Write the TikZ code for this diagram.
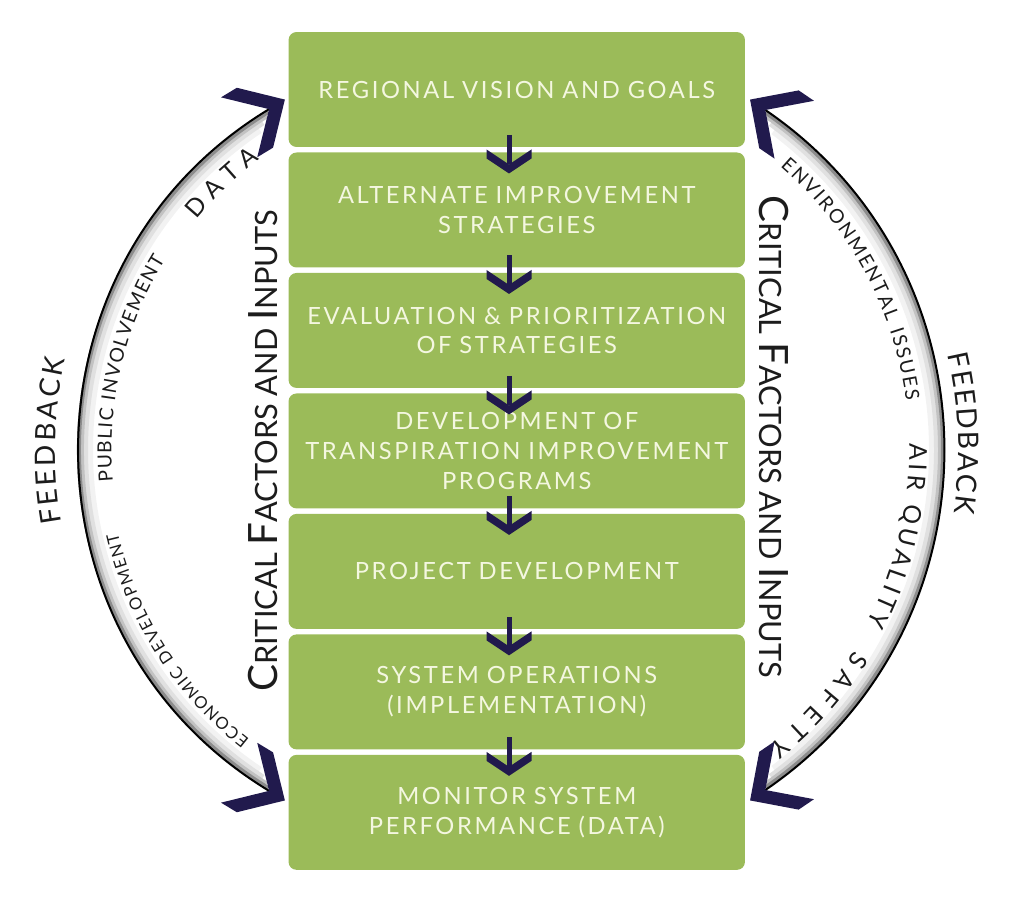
\documentclass[tikz,border=0pt]{standalone}
\usepackage{fontspec}
\setmainfont{Lato}
\newfontfamily\stagefont[LetterSpace=11]{Lato}
\usetikzlibrary{positioning, calc}
\usetikzlibrary{decorations, decorations.markings, decorations.text}

\definecolor{stagegreen}{HTML}{9BBB59}
\definecolor{stagetext}{HTML}{F4F7E0}
\definecolor{barbnavy}{HTML}{211A4D}
\definecolor{inkgray}{HTML}{1C1C1C}

\newcommand{\ini}[1]{{\fontsize{23}{24}\selectfont #1}}
\newcommand{\fsFeed}{\fontsize{16}{18}\selectfont}
\newcommand{\fsArc}{\fontsize{11}{13}\selectfont}
\newcommand{\fsEco}{\fontsize{9.5}{11}\selectfont}
\newcommand{\fsBig}{\fontsize{14}{16}\selectfont}

\tikzset{
    chev/.style args={#1 #2 #3}{
        decoration={
            markings,
            mark= at position 1 with
                {
                    \fill[barbnavy] (#3,0pt) -- (#3-#1,#2) -- (-#1,#2) -- (0pt,0pt) -- (-#1,-#2) -- (#3-#1,-#2) -- cycle;
                },
        },
        postaction={decorate}
    },
    chev/.default={0.3cm 0.45cm 0.18cm}
}
\tikzset{
    chevs/.style args={#1 #2 #3}{
        decoration={
            markings,
            mark= at position 0 with
                {
                    \fill[barbnavy, xscale=-1] (#3,0pt) -- (#3-#1,#2) -- (-#1,#2) -- (0pt,0pt) -- (-#1,-#2) -- (#3-#1,-#2) -- cycle;
                },
            mark= at position 0.9999 with
                {
                    \fill[barbnavy] (#3,0pt) -- (#3-#1,#2) -- (-#1,#2) -- (0pt,0pt) -- (-#1,-#2) -- (#3-#1,-#2) -- cycle;
                },
        },
        postaction={decorate}
    },
    chevs/.default={0.7cm 0.7cm 0.37cm}
}
\tikzset{
    arctext/.style 2 args={
        decoration={text along path, text={|#1|#2}, text align={fit to path}, text color=inkgray},
        decorate
    }
}

\begin{document}
\begin{tikzpicture}[x=0.02cm, y=0.02cm]
    \def \RL {398.5}
    \def \RR {411.6}
    \tikzstyle{stage}=[rectangle, rounded corners=0.16cm, fill=stagegreen, text=stagetext, font=\stagefont\fontsize{13.5}{17}\selectfont, align=center, text width=9cm, minimum width=9.13cm, minimum height=2.3cm, inner sep=0pt, outer sep=0pt];
    \tikzstyle{crit}=[text=inkgray, font=\fontsize{17.5}{20}\selectfont, inner sep=0pt];
    \useasboundingbox (0,0) rectangle (1011,-900);
    % stages
    \node[stage] (b1) at (516.75,-89.5) {REGIONAL VISION AND GOALS};
    \node[stage, below=0.11cm of b1] (b2) {ALTERNATE IMPROVEMENT\\STRATEGIES};
    \node[stage, below=0.11cm of b2] (b3) {EVALUATION \& PRIORITIZATION\\OF STRATEGIES};
    \node[stage, below=0.11cm of b3] (b4) {DEVELOPMENT OF\\TRANSPIRATION IMPROVEMENT\\PROGRAMS};
    \node[stage, below=0.11cm of b4] (b5) {PROJECT DEVELOPMENT};
    \node[stage, below=0.11cm of b5] (b6) {SYSTEM OPERATIONS\\(IMPLEMENTATION)};
    \node[stage, below=0.11cm of b6] (b7) {MONITOR SYSTEM\\PERFORMANCE (DATA)};
    % flow arrows
    \draw[barbnavy, line width=0.1cm, chev] ([xshift=-0.155cm, yshift=0.24cm]b1.south) -- ([xshift=-0.155cm, yshift=-0.24cm]b2.north);
    \draw[barbnavy, line width=0.1cm, chev] ([xshift=-0.155cm, yshift=0.24cm]b2.south) -- ([xshift=-0.155cm, yshift=-0.24cm]b3.north);
    \draw[barbnavy, line width=0.1cm, chev] ([xshift=-0.155cm, yshift=0.24cm]b3.south) -- ([xshift=-0.155cm, yshift=-0.24cm]b4.north);
    \draw[barbnavy, line width=0.1cm, chev] ([xshift=-0.155cm, yshift=0.24cm]b4.south) -- ([xshift=-0.155cm, yshift=-0.24cm]b5.north);
    \draw[barbnavy, line width=0.1cm, chev] ([xshift=-0.155cm, yshift=0.24cm]b5.south) -- ([xshift=-0.155cm, yshift=-0.24cm]b6.north);
    \draw[barbnavy, line width=0.1cm, chev] ([xshift=-0.155cm, yshift=0.24cm]b6.south) -- ([xshift=-0.155cm, yshift=-0.24cm]b7.north);
    % feedback arcs
    \coordinate (lc) at (475.5,-450);
    \coordinate (rc) at (533.4,-450);
    \coordinate (lbot) at ([shift={(238.8:\RL)}]lc);
    \coordinate (ltop) at ([shift={(121.2:\RL)}]lc);
    \coordinate (rtop) at ([shift={(55.7:\RR)}]rc);
    \coordinate (rbot) at ([shift={(-55.7:\RR)}]rc);
    \draw[line width=0.32cm, black!5] ([shift={(236:\RL-8)}]lc) arc[start angle=236, end angle=124, radius=\RL-8];
    \draw[line width=0.22cm, black!12] ([shift={(237:\RL-5.5)}]lc) arc[start angle=237, end angle=123, radius=\RL-5.5];
    \draw[line width=0.14cm, black!24] ([shift={(238:\RL-3.5)}]lc) arc[start angle=238, end angle=122, radius=\RL-3.5];
    \draw[line width=0.08cm, black!45] ([shift={(238.5:\RL-2)}]lc) arc[start angle=238.5, end angle=121.5, radius=\RL-2];
    \draw[line width=0.32cm, black!5] ([shift={(53:\RR-8)}]rc) arc[start angle=53, end angle=-53, radius=\RR-8];
    \draw[line width=0.22cm, black!12] ([shift={(54:\RR-5.5)}]rc) arc[start angle=54, end angle=-54, radius=\RR-5.5];
    \draw[line width=0.14cm, black!24] ([shift={(55:\RR-3.5)}]rc) arc[start angle=55, end angle=-55, radius=\RR-3.5];
    \draw[line width=0.08cm, black!45] ([shift={(55.5:\RR-2)}]rc) arc[start angle=55.5, end angle=-55.5, radius=\RR-2];
    \draw[black, line width=0.04cm, chevs] (lbot) to[out=148.8, in=211.2, looseness=1.12] (ltop);
    \draw[black, line width=0.04cm, chevs] (rtop) to[out=-34.3, in=34.3, looseness=1.09] (rbot);
    % labels along the arcs
    \path[arctext={\fsBig}{DATA}] ([shift={(140.5:362)}]lc) arc[start angle=140.5, end angle=126.5, radius=362];
    \path[arctext={\fsArc}{PUBLIC INVOLVEMENT}] ([shift={(185:364)}]lc) arc[start angle=185, end angle=148.5, radius=364];
    \path[arctext={\fsEco}{ECONOMIC DEVELOPMENT}] ([shift={(232:367)}]lc) arc[start angle=232, end angle=193, radius=367];
    \path[arctext={\fsArc}{ENVIRONMENTAL ISSUES}] ([shift={(49:376)}]rc) arc[start angle=49, end angle=7.5, radius=376];
    \path[arctext={\fsBig}{AIR QUALITY}] ([shift={(1:376)}]rc) arc[start angle=1, end angle=-27.5, radius=376];
    \path[arctext={\fsBig}{SAFETY}] ([shift={(-32:378)}]rc) arc[start angle=-32, end angle=-51.5, radius=378];
    \path[arctext={\fsFeed}{FEEDBACK}] ([shift={(190:420)}]lc) arc[start angle=190, end angle=167.5, radius=420];
    \path[arctext={\fsFeed}{FEEDBACK}] ([shift={(13:425)}]rc) arc[start angle=13, end angle=-8.5, radius=425];
    % critical factors
    \node[crit, rotate=90] (lcrit) at ([xshift=-0.51cm]b4.west) {\ini{C}RITICAL \ini{F}ACTORS AND \ini{I}NPUTS};
    \node[crit, rotate=-90] (rcrit) at ([xshift=0.58cm, yshift=0.28cm]b4.east) {\ini{C}RITICAL \ini{F}ACTORS AND \ini{I}NPUTS};
\end{tikzpicture}
\end{document}
